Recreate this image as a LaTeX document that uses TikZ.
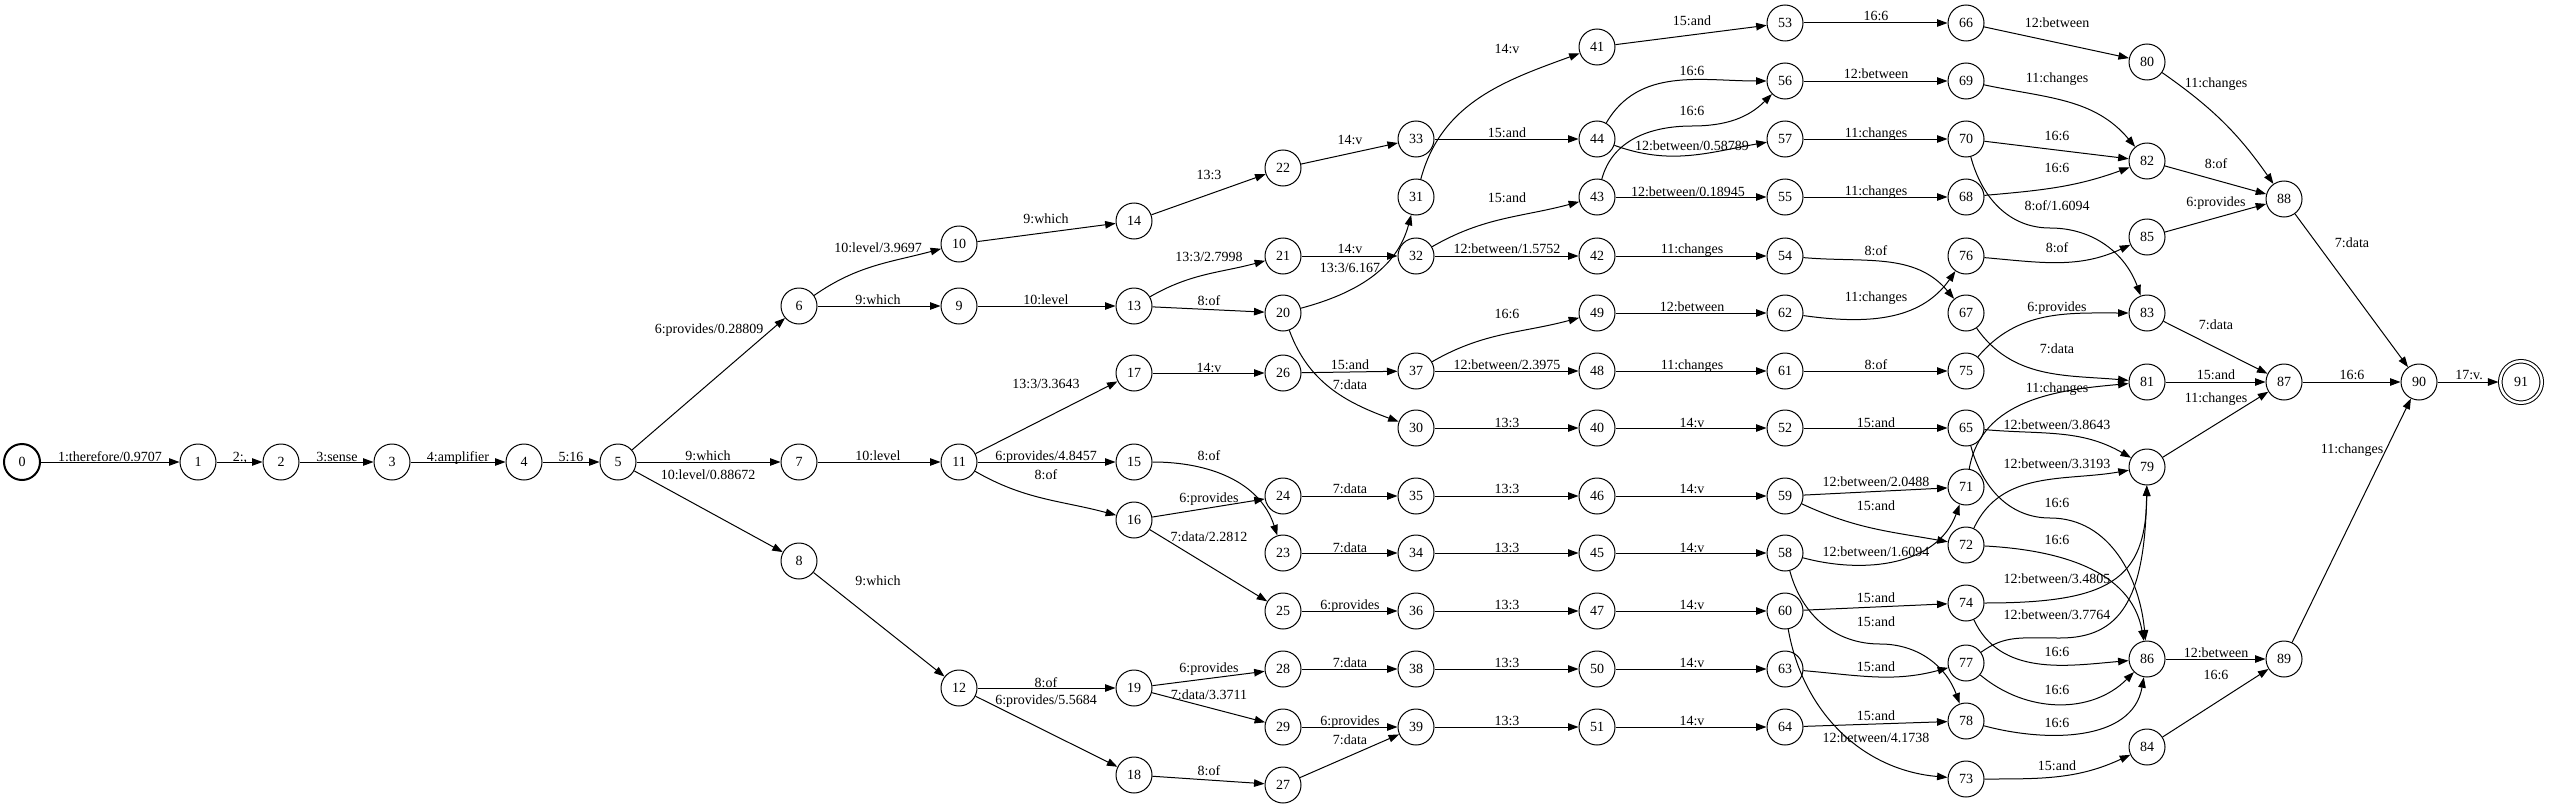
\documentclass[tikz,border=0pt]{standalone}
\usepackage{fontspec}
\setmainfont{Liberation Serif}
\usepackage{tikz}
\usetikzlibrary{arrows.meta}
\tikzset{
	st/.style={draw, circle, minimum size=36bp, inner sep=0pt, line width=1bp, font=\fontsize{14bp}{16bp}\selectfont},
	init/.style={st, line width=2bp},
	final/.style={st, double, double distance=2.5bp, minimum size=41.5bp, outer sep=1.8bp},
	edgeln/.style={line width=1bp, -{Triangle[length=10.5bp,width=7.5bp]}},
	lbl/.style={anchor=base, inner sep=0pt, font=\fontsize{14bp}{16bp}\selectfont}
}
\def\trans[#1](#2)(#3)#4(#5){\draw[edgeln] (q#2) to[#1] (q#3) node[lbl,at={(#5)}] {#4};}

\begin{document}
\begin{tikzpicture}[x=1bp, y=1bp]
			%%%%% START %%%%%
			\useasboundingbox (0,0) rectangle (2550,-809);
			
			\node[init] (q0) at (22,-462) {0};
			\node[st] (q1) at (198,-462) {1};
			\node[st] (q2) at (281,-462) {2};
			\node[st] (q3) at (392,-462) {3};
			\node[st] (q4) at (524,-462) {4};
			\node[st] (q5) at (618,-462) {5};
			
			\node[st] (q6) at (799,-306) {6};
			\node[st] (q7) at (799,-462) {7};
			\node[st] (q8) at (799,-561) {8};
			
			\node[st] (q9) at (959,-306) {9};
			\node[st] (q10) at (959,-244) {10};
			\node[st] (q11) at (959,-462) {11};
			\node[st] (q12) at (959,-688) {12};
			
			\node[st] (q13) at (1134,-306) {13};
			\node[st] (q14) at (1134,-221) {14};
			\node[st] (q15) at (1134,-462) {15};
			\node[st] (q16) at (1134,-520) {16};
			\node[st] (q17) at (1134,-373) {17};
			\node[st] (q18) at (1134,-775) {18};
			\node[st] (q19) at (1134,-688) {19};
			
			\node[st] (q20) at (1283,-313) {20};
			\node[st] (q21) at (1283,-256) {21};
			\node[st] (q22) at (1283,-168) {22};
			\node[st] (q23) at (1283,-553) {23};
			\node[st] (q24) at (1283,-496) {24};
			\node[st] (q25) at (1283,-611) {25};
			\node[st] (q26) at (1283,-373) {26};
			\node[st] (q27) at (1283,-785) {27};
			\node[st] (q28) at (1283,-669) {28};
			\node[st] (q29) at (1283,-727) {29};
			
			\node[st] (q30) at (1416,-428) {30};
			\node[st] (q31) at (1416,-197) {31};
			\node[st] (q32) at (1416,-256) {32};
			\node[st] (q33) at (1416,-139) {33};
			\node[st] (q34) at (1416,-553) {34};
			\node[st] (q35) at (1416,-496) {35};
			\node[st] (q36) at (1416,-611) {36};
			\node[st] (q37) at (1416,-371) {37};
			\node[st] (q38) at (1416,-669) {38};
			\node[st] (q39) at (1416,-727) {39};
			
			\node[st] (q40) at (1597,-428) {40};
			\node[st] (q41) at (1597,-47) {41};
			\node[st] (q42) at (1597,-256) {42};
			\node[st] (q43) at (1597,-197) {43};
			\node[st] (q44) at (1597,-139) {44};
			\node[st] (q45) at (1597,-553) {45};
			\node[st] (q46) at (1597,-496) {46};
			\node[st] (q47) at (1597,-611) {47};
			\node[st] (q48) at (1597,-371) {48};
			\node[st] (q49) at (1597,-313) {49};
			\node[st] (q50) at (1597,-669) {50};
			\node[st] (q51) at (1597,-727) {51};
			
			\node[st] (q52) at (1785,-428) {52};
			\node[st] (q53) at (1785,-23) {53};
			\node[st] (q54) at (1785,-256) {54};
			\node[st] (q55) at (1785,-197) {55};
			\node[st] (q56) at (1785,-81) {56};
			\node[st] (q57) at (1785,-139) {57};
			\node[st] (q58) at (1785,-553) {58};
			\node[st] (q59) at (1785,-496) {59};
			\node[st] (q60) at (1785,-611) {60};
			\node[st] (q61) at (1785,-371) {61};
			\node[st] (q62) at (1785,-313) {62};
			\node[st] (q63) at (1785,-669) {63};
			\node[st] (q64) at (1785,-727) {64};
			
			\node[st] (q65) at (1966,-428) {65};
			\node[st] (q66) at (1966,-23) {66};
			\node[st] (q67) at (1966,-313) {67};
			\node[st] (q68) at (1966,-197) {68};
			\node[st] (q69) at (1966,-81) {69};
			\node[st] (q70) at (1966,-139) {70};
			\node[st] (q71) at (1966,-487) {71};
			\node[st] (q72) at (1966,-545) {72};
			\node[st] (q73) at (1966,-779) {73};
			\node[st] (q74) at (1966,-603) {74};
			\node[st] (q75) at (1966,-371) {75};
			\node[st] (q76) at (1966,-256) {76};
			\node[st] (q77) at (1966,-663) {77};
			\node[st] (q78) at (1966,-721) {78};
			
			\node[st] (q79) at (2147,-467) {79};
			\node[st] (q80) at (2147,-62) {80};
			\node[st] (q81) at (2147,-382) {81};
			\node[st] (q82) at (2147,-161) {82};
			\node[st] (q83) at (2147,-313) {83};
			\node[st] (q84) at (2147,-747) {84};
			\node[st] (q85) at (2147,-237) {85};
			\node[st] (q86) at (2147,-659) {86};
			
			\node[st] (q87) at (2284,-382) {87};
			\node[st] (q88) at (2284,-199) {88};
			\node[st] (q89) at (2284,-659) {89};
			\node[st] (q90) at (2419,-382) {90};
			\node[final] (q91) at (2521,-382) {91};
			
			\trans[](0)(1){1:therefore/0.9707}(110,-461)
			\trans[](1)(2){2:,}(240,-461)
			\trans[](2)(3){3:sense}(337,-461)
			\trans[](3)(4){4:amplifier}(458,-461)
			\trans[](4)(5){5:16}(571,-461)
			\trans[](5)(6){6:provides/0.28809}(709,-333)
			\trans[](5)(7){9:which}(708,-460)
			\trans[](5)(8){10:level/0.88672}(708,-479)
			\trans[](6)(9){9:which}(878,-304)
			\trans[out=35,in=195](6)(10){10:level/3.9697}(878,-252)
			\trans[](7)(11){10:level}(878,-460)
			\trans[](8)(12){9:which}(878,-585)
			\trans[](9)(13){10:level}(1046,-304)
			\trans[](10)(14){9:which}(1046,-223)
			\trans[](11)(15){6:provides/4.8457}(1046,-460)
			\trans[out=-30,in=165](11)(16){8:of}(1046,-479)
			\trans[](11)(17){13:3/3.3643}(1046,-388)
			\trans[](12)(19){8:of}(1046,-687)
			\trans[](12)(18){6:provides/5.5684}(1046,-704)
			
			\trans[](13)(20){8:of}(1209,-305)
			\trans[out=30,in=195](13)(21){13:3/2.7998}(1209,-261)
			\trans[](14)(22){13:3}(1209,-179)
			\trans[out=0,in=108](15)(23){8:of}(1209,-460)
			\trans[](16)(24){6:provides}(1209,-502)
			\trans[](16)(25){7:data/2.2812}(1209,-541)
			\trans[](17)(26){14:v}(1209,-372)
			\trans[](18)(27){8:of}(1209,-775)
			\trans[](19)(28){6:provides}(1209,-672)
			\trans[](19)(29){7:data/3.3711}(1209,-699)
			
			\trans[out=-70,in=160](20)(30){7:data}(1350,-389)
			\trans[out=15,in=-105](20)(31){13:3/6.167}(1350,-272)
			\trans[](21)(32){14:v}(1350,-253)
			\trans[](22)(33){14:v}(1350,-144)
			\trans[](23)(34){7:data}(1350,-552)
			\trans[](24)(35){7:data}(1350,-493)
			\trans[](25)(36){6:provides}(1350,-609)
			\trans[](26)(37){15:and}(1350,-369)
			\trans[](27)(39){7:data}(1350,-744)
			\trans[](28)(38){7:data}(1350,-667)
			\trans[](29)(39){6:provides}(1350,-725)
			
			\trans[](30)(40){13:3}(1507,-427)
			\trans[out=75,in=200](31)(41){14:v}(1507,-54)
			\trans[out=30,in=195](32)(43){15:and}(1507,-202)
			\trans[](32)(42){12:between/1.5752}(1507,-253)
			\trans[](33)(44){15:and}(1507,-137)
			\trans[](34)(45){13:3}(1507,-552)
			\trans[](35)(46){13:3}(1507,-493)
			\trans[](36)(47){13:3}(1507,-609)
			\trans[out=30,in=195](37)(49){16:6}(1507,-318)
			\trans[](37)(48){12:between/2.3975}(1507,-369)
			\trans[](38)(50){13:3}(1507,-667)
			\trans[](39)(51){13:3}(1507,-725)
			
			\trans[](40)(52){14:v}(1692,-427)
			\trans[](41)(53){15:and}(1692,-26)
			\trans[](42)(54){11:changes}(1692,-253)
			\draw[edgeln] (q43) to[out=75,in=180] (1692,-126) to[out=0,in=-135] (q56) node[lbl,at={(1692,-115)}] {16:6};
			\trans[](43)(55){12:between/0.18945}(1688,-196)
			\trans[out=60,in=180](44)(56){16:6}(1692,-76)
			\trans[out=-20,in=190](44)(57){12:between/0.58789}(1692,-150)
			\trans[](45)(58){14:v}(1692,-552)
			\trans[](46)(59){14:v}(1692,-493)
			\trans[](47)(60){14:v}(1692,-609)
			\trans[](48)(61){11:changes}(1692,-369)
			\trans[](49)(62){12:between}(1692,-311)
			\trans[](50)(63){14:v}(1692,-667)
			\trans[](51)(64){14:v}(1692,-725)
			
			\trans[](52)(65){15:and}(1876,-427)
			\trans[](53)(66){16:6}(1876,-21)
			\trans[out=-5,in=130](54)(67){8:of}(1876,-255)
			\trans[](55)(68){11:changes}(1876,-195)
			\trans[](56)(69){12:between}(1876,-79)
			\trans[](57)(70){11:changes}(1876,-137)
			\trans[out=-15,in=-110](58)(71){12:between/1.6094}(1876,-556)
			\draw[edgeln] (q58) to[out=-75,in=180] (1880,-644) to[out=0,in=110] (q78) node[lbl,at={(1876,-626)}] {15:and};
			\trans[](59)(71){12:between/2.0488}(1876,-486)
			\trans[out=-25,in=170](59)(72){15:and}(1876,-510)
			\trans[](60)(74){15:and}(1876,-602)
			\trans[out=-80,in=175](60)(73){12:between/4.1738}(1876,-742)
			\trans[](61)(75){8:of}(1876,-369)
			\trans[out=-8,in=-125](62)(76){11:changes}(1876,-301)
			\trans[out=-5,in=195](63)(77){15:and}(1876,-671)
			\trans[](64)(78){15:and}(1876,-720)
			
			\trans[out=-5,in=150](65)(79){12:between/3.8643}(2057,-429)
			\draw[edgeln] (q65) to[out=-75,in=180] (2050,-518) to[out=0,in=95] (q86) node[lbl,at={(2057,-507)}] {16:6};
			\trans[](66)(80){12:between}(2057,-28)
			\trans[out=-55,in=175](67)(81){7:data}(2057,-353)
			\trans[out=5,in=200](68)(82){16:6}(2057,-172)
			\trans[out=-12,in=130](69)(82){11:changes}(2057,-83)
			\trans[](70)(82){16:6}(2057,-140)
			\draw[edgeln] (q70) to[out=-75,in=180] (2050,-228) to[out=0,in=110] (q83) node[lbl,at={(2057,-210)}] {8:of/1.6094};
			\trans[out=80,in=185](71)(81){11:changes}(2057,-392)
			\trans[out=65,in=190](72)(79){12:between/3.3193}(2057,-468)
			\trans[out=-3,in=100](72)(86){16:6}(2057,-544)
			\trans[out=0,in=205](73)(84){15:and}(2057,-770)
			\draw[edgeln] (q74) .. controls (2110,-603) and (2146,-580) .. (q79) node[lbl,at={(2057,-583)}] {12:between/3.4805};
			\trans[out=-65,in=185](74)(86){16:6}(2057,-656)
			\trans[out=50,in=180](75)(83){6:provides}(2057,-311)
			\trans[out=-5,in=205](76)(85){8:of}(2057,-252)
			\draw[edgeln] (q77) .. controls (2005,-635) and (2020,-638) .. (2060,-638) .. controls (2120,-638) and (2145,-600) .. (q79) node[lbl,at={(2057,-619)}] {12:between/3.7764};
			\trans[out=-40,in=-135](77)(86){16:6}(2057,-694)
			\trans[out=-15,in=-100](78)(86){16:6}(2057,-727)
			
			\trans[](79)(87){11:changes}(2216,-402)
			\trans[out=-35,in=125](80)(88){11:changes}(2216,-87)
			\trans[](81)(87){15:and}(2216,-379)
			\trans[](82)(88){8:of}(2216,-168)
			\trans[](83)(87){7:data}(2216,-329)
			\trans[](84)(89){16:6}(2216,-679)
			\trans[](85)(88){6:provides}(2216,-206)
			\trans[](86)(89){12:between}(2216,-657)
			
			\trans[](87)(90){16:6}(2352,-379)
			\trans[](88)(90){7:data}(2352,-247)
			\trans[](89)(90){11:changes}(2352,-453)
			\trans[](90)(91){17:v.}(2469,-379)
			
			%%%%% END %%%%%
\end{tikzpicture}
\end{document}
